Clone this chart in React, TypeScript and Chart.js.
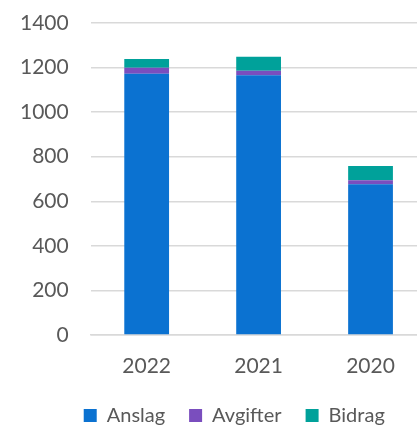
import React, { useEffect, useRef } from "react";
import { Chart, registerables } from "chart.js";

Chart.register(...registerables);

const categories = ["2022", "2021", "2020"];
const anslag = [1172, 1166, 677];
const avgifter = [27, 20, 17];
const bidrag = [39, 62, 64];
const yTicks = [0, 200, 400, 600, 800, 1000, 1200, 1400];

const FONT = "Lato, 'Open Sans', sans-serif";
const TEXT = "#595959";
const LEGEND_SHIFT = 21;

const shiftLegend = {
  id: "shiftLegend",
  afterLayout(chart: any) {
    if (chart.legend) {
      chart.legend.left += LEGEND_SHIFT;
      chart.legend.right += LEGEND_SHIFT;
    }
  },
};

export default function App() {
  const ref = useRef<HTMLCanvasElement | null>(null);
  useEffect(() => {
    document.body.style.margin = "0";
    document.body.style.overflow = "hidden";
    const ctx = ref.current!;
    const chart = new Chart(ctx, {
      type: "bar",
      data: {
        labels: categories,
        datasets: [
          { label: "Anslag", data: anslag, backgroundColor: "#0B72D1" },
          { label: "Avgifter", data: avgifter, backgroundColor: "#7A4EBE" },
          { label: "Bidrag", data: bidrag, backgroundColor: "#00A19A" },
        ],
      },
      plugins: [shiftLegend],
      options: {
        animation: false,
        responsive: false,
        maintainAspectRatio: false,
        datasets: { bar: { barPercentage: 0.4, categoryPercentage: 1 } },
        layout: { padding: { left: 0, right: 41.5, top: 23, bottom: -7.5 } },
        plugins: {
          tooltip: { enabled: false },
          legend: {
            position: "bottom",
            labels: {
              boxWidth: 13,
              boxHeight: 13,
              color: TEXT,
              font: { family: FONT, size: 20 },
              padding: 24,
            },
          },
        },
        scales: {
          x: {
            stacked: true,
            grid: { display: false, drawTicks: false },
            border: { display: true, color: "#d9d9d9", width: 1.5 },
            ticks: { color: TEXT, font: { family: FONT, size: 21 }, padding: 18.4 },
            afterFit: (s: any) => { s.height = 46.5; },
          },
          y: {
            stacked: true,
            min: 0,
            max: 1400,
            afterBuildTicks: (s: any) => { s.ticks = yTicks.map((v) => ({ value: v })); },
            grid: {
              color: "#d9d9d9",
              lineWidth: 1.5,
              drawTicks: true,
              tickLength: 22,
              tickColor: "rgba(0,0,0,0)",
            },
            border: { display: false },
            ticks: {
              color: TEXT,
              font: { family: FONT, size: 21 },
              padding: 0,
              callback: (v: any) => String(v),
            },
            afterFit: (s: any) => { s.width = 90.7; },
          },
        },
      },
    } as any);
    return () => chart.destroy();
  }, []);
  return (
    <div style={{ position: "absolute", left: 0, top: 0, width: 417, height: 428, overflow: "hidden", background: "#fff" }}>
      <canvas ref={ref} width={468} height={428} style={{ width: 468, height: 428, display: "block" }} />
    </div>
  );
}
